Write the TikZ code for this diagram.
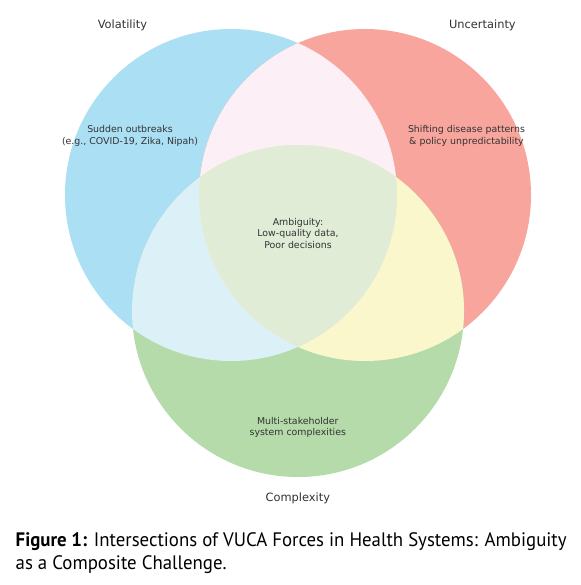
\documentclass[tikz,border=0pt]{standalone}
\usepackage{fontspec}
\setmainfont{DejaVu Sans}
\newfontfamily\capfont[FakeStretch=0.965]{PT Sans}
\definecolor{cblue}{RGB}{171,223,243}
\definecolor{cred}{RGB}{248,166,157}
\definecolor{cgreen}{RGB}{182,219,170}
\definecolor{cbr}{RGB}{252,239,245}
\definecolor{cbg}{RGB}{219,240,247}
\definecolor{crg}{RGB}{250,247,205}
\definecolor{call}{RGB}{224,236,214}
\definecolor{txtcol}{RGB}{51,51,51}
\begin{document}
\begin{tikzpicture}[x=1pt,y=-1pt,
  setlabel/.style={font=\fontsize{11.4}{13}\selectfont, text=txtcol, inner sep=0pt},
  reglabel/.style={font=\fontsize{9.4}{11.5}\selectfont, align=center, text=txtcol, inner sep=0pt},
  caption/.style={font=\capfont\fontsize{19.5}{23}\selectfont, text=black, inner sep=0pt, anchor=base west}]
\useasboundingbox (0,0) rectangle (580,585);
\fill[white] (0,0) rectangle (580,585);
\def\cA{(231,195) circle (166pt)}
\def\cB{(365,195) circle (166pt)}
\def\cC{(298,311) circle (166pt)}
\fill[cblue] \cA;
\fill[cred] \cB;
\fill[cgreen] \cC;
\begin{scope}\clip \cA; \fill[cbr] \cB; \end{scope}
\begin{scope}\clip \cA; \fill[cbg] \cC; \end{scope}
\begin{scope}\clip \cB; \fill[crg] \cC; \end{scope}
\begin{scope}\clip \cA; \clip \cB; \fill[call] \cC; \end{scope}
\node[setlabel] (vol) at (122.4,25) {Volatility};
\node[setlabel] (unc) at (482.4,25) {Uncertainty};
\node[setlabel] (com) at (297.8,498) {Complexity};
\node[reglabel] (rv) at (130,136) {Sudden outbreaks\\(e.g., COVID-19, Zika, Nipah)};
\node[reglabel] (ru) at (466.5,136) {Shifting disease patterns\\\& policy unpredictability};
\node[reglabel] (ra) at (298,233.3) {Ambiguity:\\Low-quality data,\\Poor decisions};
\node[reglabel] (rc) at (297.8,427.5) {Multi-stakeholder\\system complexities};
\node[caption] (cap1) at (15.5,546) {\textbf{Figure 1:} Intersections of VUCA Forces in Health Systems: Ambiguity};
\node[caption] (cap2) at (15.5,569.3) {as a Composite Challenge.};
\end{tikzpicture}
\end{document}
